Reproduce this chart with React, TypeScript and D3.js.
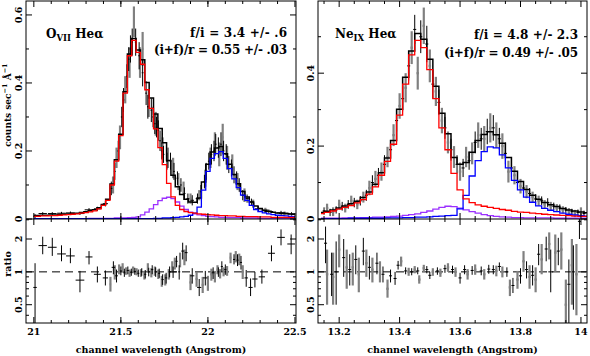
import * as d3 from "d3";

// ---------- O VII He-alpha (left) ----------
// model bin centres, 0.025 A apart
const oBins = d3.range(61).map((i) => 21 + i * 0.025);
const oTotal = [0.010,0.010,0.011,0.011,0.012,0.012,0.013,0.014,0.015,0.016,0.017,0.019,0.021,0.024,0.027,0.033,0.043,0.058,0.103,0.174,0.249,0.374,0.485,0.531,0.497,0.468,0.401,0.356,0.309,0.266,0.224,0.172,0.129,0.095,0.072,0.058,0.050,0.049,0.062,0.109,0.161,0.197,0.209,0.213,0.192,0.161,0.131,0.104,0.081,0.065,0.050,0.038,0.031,0.026,0.023,0.020,0.018,0.017,0.016,0.015,0.014];
const oRes = [0.008,0.008,0.009,0.009,0.010,0.010,0.011,0.012,0.013,0.014,0.015,0.017,0.019,0.021,0.024,0.030,0.040,0.055,0.100,0.170,0.245,0.370,0.480,0.525,0.490,0.455,0.380,0.325,0.265,0.210,0.160,0.105,0.065,0.040,0.028,0.022,0.019,0.017,0.015,0.014,0.013,0.012,0.011,0.010,0.010,0.009,0.009,0.008,0.008,0.007,0.007,0.007,0.006,0.006,0.006,0.005,0.005,0.005,0.005,0.005,0.005];
const oInter = [0.001,0.001,0.001,0.001,0.001,0.001,0.001,0.001,0.001,0.001,0.001,0.001,0.001,0.002,0.002,0.002,0.002,0.002,0.002,0.003,0.003,0.003,0.004,0.005,0.006,0.012,0.020,0.030,0.042,0.054,0.061,0.064,0.060,0.050,0.038,0.028,0.020,0.015,0.012,0.010,0.008,0.007,0.006,0.005,0.005,0.004,0.004,0.004,0.003,0.003,0.003,0.003,0.002,0.002,0.002,0.002,0.002,0.002,0.002,0.002,0.002];
const oForb = [0.001,0.001,0.001,0.001,0.001,0.001,0.001,0.001,0.001,0.001,0.001,0.001,0.001,0.001,0.001,0.001,0.001,0.001,0.001,0.001,0.001,0.001,0.001,0.001,0.001,0.001,0.001,0.001,0.002,0.002,0.003,0.003,0.004,0.005,0.006,0.008,0.011,0.017,0.035,0.085,0.140,0.178,0.192,0.198,0.178,0.148,0.118,0.092,0.070,0.055,0.040,0.028,0.022,0.018,0.015,0.013,0.011,0.010,0.009,0.008,0.007];
// data: [wavelength, counts, half bin, error]
const oBlack = [
  [21.007,0.008,0.01,0.006],[21.051,0.016,0.024,0.004],[21.106,0.016,0.025,0.004],[21.159,0.017,0.025,0.004],
  [21.21,0.018,0.025,0.004],[21.265,0.016,0.025,0.004],[21.317,0.027,0.025,0.005],[21.365,0.030,0.02,0.006],
  [21.411,0.045,0.015,0.008],[21.445,0.09,0.006,0.02],[21.465,0.14,0.005,0.025],[21.485,0.20,0.005,0.03],
  [21.505,0.30,0.005,0.03],[21.515,0.35,0.005,0.035],[21.535,0.42,0.005,0.035],[21.545,0.47,0.005,0.035],
  [21.555,0.50,0.005,0.04],[21.565,0.52,0.005,0.04],[21.585,0.52,0.005,0.04],[21.605,0.48,0.005,0.04],
  [21.625,0.43,0.005,0.04],[21.645,0.37,0.005,0.035],[21.655,0.33,0.005,0.035],[21.675,0.32,0.005,0.035],
  [21.685,0.30,0.005,0.03],[21.695,0.28,0.005,0.03],[21.705,0.27,0.005,0.03],[21.715,0.26,0.005,0.03],
  [21.725,0.23,0.005,0.03],[21.735,0.20,0.005,0.025],[21.745,0.19,0.005,0.025],[21.765,0.17,0.005,0.025],
  [21.785,0.17,0.005,0.025],[21.805,0.14,0.005,0.025],[21.825,0.12,0.005,0.02],[21.845,0.10,0.005,0.02],
  [21.865,0.075,0.006,0.018],[21.885,0.06,0.008,0.015],[21.91,0.055,0.01,0.015],[21.94,0.06,0.01,0.015],
  [21.96,0.08,0.006,0.02],[21.98,0.11,0.005,0.02],[21.99,0.14,0.005,0.025],[22.005,0.17,0.005,0.025],
  [22.02,0.19,0.005,0.03],[22.035,0.20,0.005,0.03],[22.045,0.22,0.005,0.03],[22.06,0.21,0.005,0.03],
  [22.075,0.22,0.005,0.035],[22.09,0.20,0.005,0.03],[22.105,0.19,0.005,0.03],[22.12,0.16,0.005,0.025],
  [22.135,0.15,0.005,0.025],[22.15,0.13,0.005,0.025],[22.165,0.12,0.005,0.02],[22.18,0.10,0.006,0.02],
  [22.2,0.07,0.008,0.015],[22.225,0.06,0.01,0.012],[22.25,0.05,0.012,0.01],[22.29,0.03,0.02,0.008],
  [22.35,0.022,0.025,0.006],[22.42,0.018,0.025,0.006],[22.48,0.015,0.022,0.005],
];
const oGray = [
  [21.455,0.10,0.004,0.025],[21.475,0.18,0.004,0.03],[21.495,0.24,0.004,0.035],[21.525,0.38,0.004,0.04],
  [21.55,0.46,0.004,0.045],[21.575,0.58,0.004,0.045],[21.61,0.46,0.004,0.045],[21.625,0.50,0.004,0.05],
  [21.66,0.34,0.004,0.04],[21.70,0.28,0.004,0.035],[21.74,0.21,0.004,0.03],[21.77,0.18,0.004,0.03],
  [21.80,0.15,0.004,0.03],[21.83,0.11,0.004,0.025],[21.86,0.09,0.004,0.02],[21.90,0.06,0.005,0.015],
  [21.95,0.07,0.005,0.015],[21.985,0.12,0.004,0.025],[22.015,0.18,0.004,0.03],[22.04,0.22,0.004,0.035],
  [22.065,0.19,0.004,0.035],[22.085,0.24,0.004,0.04],[22.11,0.18,0.004,0.035],[22.14,0.16,0.004,0.03],
  [22.17,0.11,0.004,0.025],[22.21,0.07,0.005,0.02],[22.26,0.045,0.008,0.012],[22.33,0.025,0.015,0.008],
  [22.44,0.016,0.02,0.006],
];
// ratio: [wavelength, ratio, half bin, low, high]
const oRatioBlack = [
  [21.007,0.72,0.01,0.34,1.2],[21.051,1.74,0.024,1.45,2.1],[21.106,1.68,0.025,1.4,2.05],[21.159,1.46,0.025,1.25,1.75],
  [21.21,1.40,0.025,1.2,1.65],[21.265,0.84,0.025,0.65,1.02],[21.317,1.37,0.02,1.17,1.55],[21.365,0.95,0.02,0.8,1.12],
  [21.411,0.88,0.015,0.75,1.03],[21.457,1.10,0.01,0.95,1.25],[21.475,0.92,0.008,0.8,1.05],[21.50,1.02,0.006,0.93,1.12],
  [21.52,0.98,0.006,0.9,1.07],[21.54,1.03,0.006,0.95,1.12],[21.56,0.99,0.006,0.92,1.07],[21.58,1.01,0.006,0.94,1.09],
  [21.60,0.97,0.006,0.9,1.05],[21.62,1.0,0.006,0.92,1.08],[21.64,0.95,0.006,0.87,1.04],[21.66,1.0,0.006,0.91,1.09],
  [21.68,1.05,0.006,0.95,1.15],[21.70,1.0,0.006,0.9,1.1],[21.72,0.97,0.006,0.88,1.07],[21.74,0.85,0.006,0.76,0.95],
  [21.76,0.88,0.006,0.78,0.98],[21.78,1.0,0.006,0.89,1.12],[21.80,1.0,0.02,0.88,1.12],[21.82,1.25,0.006,1.1,1.4],
  [21.835,1.0,0.006,0.85,1.15],[21.855,1.55,0.008,1.3,1.85],[21.875,1.5,0.008,1.25,1.75],[21.91,0.92,0.012,0.78,1.08],
  [21.95,0.72,0.012,0.6,0.86],[21.985,0.88,0.012,0.75,1.02],[22.03,0.98,0.008,0.86,1.1],[22.06,1.0,0.006,0.9,1.1],
  [22.08,1.12,0.006,1.0,1.25],[22.10,1.05,0.006,0.94,1.17],[22.15,1.3,0.006,1.17,1.45],[22.17,1.28,0.006,1.13,1.45],
  [22.19,1.22,0.006,1.05,1.4],[22.22,0.88,0.01,0.73,1.04],[22.245,0.72,0.012,0.6,0.87],[22.27,0.86,0.015,0.72,1.0],
  [22.31,0.9,0.018,0.78,1.05],[22.365,1.48,0.02,1.25,1.75],[22.42,2.07,0.022,1.75,2.45],[22.478,1.8,0.022,1.45,2.2],
];
const oRatioGray = [
  [21.44,0.77,0.004,0.66,0.9],[21.465,1.0,0.004,0.85,1.15],[21.49,1.05,0.004,0.95,1.17],[21.51,1.1,0.004,1.0,1.2],
  [21.53,1.02,0.004,0.94,1.1],[21.55,0.97,0.004,0.9,1.05],[21.57,1.04,0.004,0.97,1.12],[21.59,1.0,0.004,0.93,1.08],
  [21.615,0.98,0.004,0.9,1.06],[21.635,0.93,0.004,0.85,1.02],[21.655,1.1,0.004,1.0,1.2],[21.675,0.98,0.004,0.89,1.08],
  [21.695,1.02,0.004,0.92,1.12],[21.715,0.95,0.004,0.86,1.05],[21.735,0.82,0.004,0.73,0.92],[21.755,0.84,0.004,0.75,0.95],
  [21.775,0.95,0.004,0.85,1.06],[21.795,1.12,0.004,1.0,1.25],[21.81,1.2,0.004,1.05,1.35],[21.84,1.3,0.004,1.1,1.5],
  [21.865,1.35,0.004,1.15,1.6],[21.9,0.8,0.006,0.68,0.95],[21.935,0.86,0.006,0.73,1.0],[21.97,0.76,0.006,0.64,0.9],
  [22.0,0.78,0.006,0.67,0.92],[22.02,0.95,0.006,0.83,1.07],[22.04,0.9,0.006,0.8,1.02],[22.055,1.05,0.005,0.95,1.15],
  [22.07,0.96,0.005,0.87,1.06],[22.09,1.0,0.005,0.91,1.1],[22.11,1.02,0.005,0.92,1.13],[22.13,1.35,0.005,1.2,1.5],
  [22.16,1.38,0.005,1.22,1.55],[22.18,1.3,0.005,1.15,1.47],[22.2,1.0,0.005,0.86,1.15],
];

// ---------- Ne IX He-alpha (right) ----------
const neBins = d3.range(45).map((i) => 13.14 + i * 0.02);
const neTotal = [0.018,0.021,0.025,0.030,0.036,0.042,0.049,0.059,0.074,0.095,0.127,0.167,0.215,0.301,0.389,0.461,0.509,0.493,0.438,0.364,0.290,0.234,0.169,0.150,0.155,0.183,0.215,0.232,0.239,0.231,0.208,0.169,0.131,0.103,0.081,0.065,0.054,0.045,0.039,0.034,0.029,0.025,0.022,0.019,0.017];
const neRes = [0.015,0.018,0.022,0.027,0.032,0.037,0.044,0.053,0.068,0.088,0.120,0.158,0.205,0.285,0.370,0.450,0.490,0.470,0.410,0.330,0.250,0.190,0.125,0.080,0.055,0.045,0.039,0.035,0.032,0.029,0.026,0.024,0.021,0.019,0.018,0.016,0.015,0.013,0.012,0.011,0.010,0.009,0.008,0.007,0.007];
const neInter = [0.002,0.002,0.002,0.002,0.003,0.003,0.003,0.004,0.004,0.005,0.005,0.006,0.007,0.008,0.010,0.012,0.014,0.018,0.022,0.027,0.032,0.035,0.034,0.030,0.025,0.020,0.016,0.012,0.009,0.007,0.006,0.005,0.004,0.004,0.003,0.003,0.003,0.003,0.003,0.002,0.002,0.002,0.002,0.002,0.002];
const neForb = [0.001,0.001,0.001,0.001,0.001,0.002,0.002,0.002,0.002,0.002,0.002,0.003,0.003,0.003,0.004,0.004,0.005,0.005,0.006,0.007,0.008,0.009,0.010,0.028,0.065,0.118,0.160,0.185,0.198,0.195,0.176,0.140,0.106,0.080,0.060,0.046,0.036,0.029,0.024,0.020,0.016,0.013,0.011,0.009,0.008];
const neBlack = [
  [13.15,0.022,0.005,0.01],[13.17,0.018,0.005,0.01],[13.19,0.025,0.005,0.01],[13.21,0.035,0.005,0.012],
  [13.23,0.04,0.005,0.012],[13.25,0.045,0.005,0.013],[13.27,0.05,0.005,0.013],[13.29,0.065,0.005,0.015],
  [13.31,0.10,0.005,0.02],[13.33,0.12,0.005,0.02],[13.35,0.15,0.005,0.025],[13.37,0.19,0.005,0.025],
  [13.39,0.27,0.005,0.03],[13.41,0.33,0.005,0.035],[13.43,0.42,0.005,0.04],[13.45,0.52,0.005,0.04],
  [13.47,0.50,0.005,0.045],[13.49,0.48,0.005,0.05],[13.51,0.37,0.005,0.04],[13.53,0.32,0.005,0.035],
  [13.55,0.25,0.005,0.03],[13.57,0.19,0.005,0.03],[13.59,0.15,0.005,0.025],[13.61,0.14,0.005,0.025],
  [13.63,0.16,0.005,0.025],[13.65,0.21,0.005,0.03],[13.67,0.22,0.005,0.03],[13.69,0.24,0.005,0.035],
  [13.71,0.25,0.005,0.035],[13.73,0.22,0.005,0.03],[13.75,0.18,0.005,0.03],[13.77,0.14,0.005,0.025],
  [13.79,0.10,0.005,0.02],[13.81,0.085,0.005,0.018],[13.83,0.07,0.005,0.015],[13.85,0.055,0.005,0.013],
  [13.87,0.05,0.005,0.012],[13.89,0.045,0.005,0.012],[13.91,0.035,0.005,0.01],[13.93,0.03,0.005,0.01],
  [13.95,0.025,0.005,0.008],[13.97,0.02,0.005,0.008],[13.99,0.018,0.005,0.008],[14.01,0.015,0.005,0.008],
];
const neGray = [
  [13.16,0.03,0.004,0.012],[13.18,0.02,0.004,0.012],[13.20,0.04,0.004,0.013],[13.22,0.03,0.004,0.012],
  [13.24,0.05,0.004,0.014],[13.26,0.04,0.004,0.013],[13.28,0.06,0.004,0.015],[13.30,0.085,0.004,0.02],
  [13.32,0.11,0.004,0.022],[13.34,0.13,0.004,0.025],[13.36,0.17,0.004,0.028],[13.38,0.23,0.004,0.03],
  [13.40,0.31,0.004,0.035],[13.42,0.36,0.004,0.04],[13.44,0.47,0.004,0.045],[13.46,0.40,0.004,0.045],
  [13.48,0.53,0.004,0.05],[13.50,0.42,0.004,0.045],[13.52,0.35,0.004,0.04],[13.54,0.27,0.004,0.035],
  [13.56,0.21,0.004,0.03],[13.58,0.17,0.004,0.03],[13.60,0.13,0.004,0.025],[13.62,0.17,0.004,0.028],
  [13.64,0.18,0.004,0.03],[13.66,0.23,0.004,0.035],[13.68,0.22,0.004,0.035],[13.70,0.25,0.004,0.04],
  [13.72,0.23,0.004,0.035],[13.74,0.20,0.004,0.035],[13.76,0.13,0.004,0.03],[13.78,0.12,0.004,0.025],
  [13.80,0.09,0.004,0.02],[13.82,0.075,0.004,0.018],[13.84,0.06,0.004,0.015],[13.86,0.05,0.004,0.014],
  [13.88,0.04,0.004,0.012],[13.90,0.035,0.004,0.012],[13.92,0.03,0.004,0.011],[13.94,0.025,0.004,0.01],
  [13.96,0.02,0.004,0.01],[13.98,0.015,0.004,0.01],[14.00,0.02,0.004,0.012],
];
const neRatioBlack = [
  [13.155,1.83,0.005,1.2,2.6],[13.175,0.95,0.005,0.6,1.5],[13.19,1.0,0.005,0.5,1.9],[13.215,1.35,0.005,0.9,2.0],
  [13.235,1.05,0.005,0.75,1.45],[13.255,1.3,0.005,0.95,1.75],[13.28,1.55,0.005,1.15,2.05],[13.3,1.1,0.005,0.85,1.4],
  [13.325,1.2,0.005,0.95,1.5],[13.345,0.95,0.005,0.8,1.12],[13.37,0.92,0.005,0.8,1.05],[13.385,0.87,0.005,0.76,1.0],
  [13.395,1.15,0.005,1.05,1.26],[13.42,1.02,0.005,0.95,1.1],[13.44,1.0,0.005,0.93,1.08],[13.46,1.02,0.005,0.95,1.1],
  [13.49,1.05,0.005,0.97,1.13],[13.50,0.93,0.005,0.86,1.0],[13.525,1.02,0.005,0.94,1.1],[13.55,1.07,0.005,0.98,1.16],
  [13.575,1.05,0.005,0.96,1.14],[13.60,0.88,0.005,0.78,0.98],[13.615,1.05,0.005,0.95,1.15],[13.64,1.03,0.005,0.94,1.13],
  [13.67,1.02,0.005,0.93,1.12],[13.695,1.06,0.005,0.96,1.16],[13.71,1.05,0.005,0.95,1.15],[13.73,1.12,0.005,1.02,1.22],
  [13.755,1.0,0.005,0.9,1.1],[13.775,0.75,0.005,0.64,0.88],[13.8,0.92,0.005,0.78,1.08],[13.82,1.05,0.005,0.87,1.25],
  [13.84,0.93,0.005,0.75,1.15],[13.86,1.45,0.005,1.15,1.8],[13.885,1.62,0.005,1.25,2.1],[13.9,1.0,0.008,0.65,1.6],
  [13.925,1.55,0.005,1.15,2.05],[13.96,0.77,0.005,0.34,1.3],[13.975,1.0,0.005,0.45,1.75],[13.995,2.9,0.005,2.0,3.1],
];
const neRatioGray = [
  [13.16,0.95,0.004,0.5,1.6],[13.18,0.9,0.004,0.5,1.5],[13.2,1.6,0.004,1.1,2.2],[13.225,1.1,0.004,0.7,1.6],
  [13.245,1.1,0.004,0.75,1.5],[13.265,0.95,0.004,0.65,1.35],[13.29,1.2,0.004,0.9,1.6],[13.31,1.05,0.004,0.8,1.35],
  [13.335,1.0,0.004,0.8,1.25],[13.36,0.7,0.004,0.58,0.85],[13.405,1.25,0.004,1.12,1.38],[13.43,1.0,0.004,0.92,1.09],
  [13.45,1.05,0.004,0.97,1.13],[13.465,0.85,0.004,0.78,0.93],[13.48,1.08,0.004,1.0,1.16],[13.51,1.0,0.004,0.92,1.08],
  [13.535,0.98,0.004,0.9,1.07],[13.56,1.1,0.004,1.0,1.2],[13.585,1.0,0.004,0.9,1.1],[13.625,0.95,0.004,0.85,1.06],
  [13.65,1.05,0.004,0.94,1.17],[13.68,0.95,0.004,0.85,1.06],[13.72,1.02,0.004,0.91,1.14],[13.74,1.0,0.004,0.89,1.12],
  [13.765,0.72,0.004,0.6,0.85],[13.79,0.85,0.004,0.7,1.02],[13.81,1.25,0.004,1.0,1.55],[13.83,0.9,0.004,0.7,1.15],
  [13.85,0.85,0.004,0.65,1.1],[13.87,1.3,0.004,0.95,1.8],[13.895,1.8,0.004,1.3,2.3],[13.915,1.5,0.004,1.0,2.2],
  [13.935,1.6,0.004,1.05,2.3],[13.95,0.5,0.004,0.34,0.85],[13.97,1.15,0.004,0.5,2.0],[13.985,0.95,0.004,0.4,1.8],
];

// ticks
const oXMajor = [21, 21.5, 22, 22.5];
const oXLabels = ["21", "21.5", "22", "22.5"];
const neXMajor = [13.2, 13.4, 13.6, 13.8, 14];
const neXLabels = ["13.2", "13.4", "13.6", "13.8", "14"];
const oYMajor = [0, 0.2, 0.4, 0.6];
const oYLabels = ["0", "0.2", "0.4", "0.6"];
const neYMajor = [0, 0.2, 0.4];
const neYLabels = ["0", "0.2", "0.4"];
const ratioMajor = [0.5, 1, 2];
const ratioLabels = ["0.5", "1", "2"];
const ratioMinor = [0.4, 0.6, 0.7, 0.8, 0.9, 3];

const FONT = "'DejaVu Serif', 'Liberation Serif', serif";
const TOP = 1, MID = 219, BOT = 323;
const PURPLE = "#9b30ff";

type Seg = [number, number, number, number];

function Lines({ segs, color, width }: { segs: Seg[]; color: string; width: number }) {
  return (
    <g stroke={color} strokeWidth={width}>
      {segs.map((s, i) => <line key={i} x1={s[0]} y1={s[1]} x2={s[2]} y2={s[3]} />)}
    </g>
  );
}

function Panel(p: any) {
  const x = d3.scaleLinear().domain(p.xDom).range([p.left, p.right]);
  const y = d3.scaleLinear().domain([0, p.yMax]).range([MID, TOP]);
  const yr = d3.scaleLog().domain([0.34, 3.05]).range([BOT, MID]);
  const step = (vals: number[]) =>
    d3.line<number>().x((_, i) => x(p.bins[i])).y((v) => y(v)).curve(d3.curveStep)(vals) || "";

  const topErr = (pts: number[][]): Seg[] =>
    pts.flatMap(([cx, cy, xe, ye]) => [
      [x(cx), y(cy - ye), x(cx), y(cy + ye)] as Seg,
      [x(cx - xe), y(cy), x(cx + xe), y(cy)] as Seg,
    ]);
  const ratErr = (pts: number[][]): Seg[] =>
    pts.flatMap(([cx, r, xe, lo, hi]) => [
      [x(cx), yr(Math.max(lo, 0.3)), x(cx), yr(Math.min(hi, 3.2))] as Seg,
      [x(cx - xe), yr(r), x(cx + xe), yr(r)] as Seg,
    ]);

  // ticks pointing inwards on all sides
  const tk: Seg[] = [];
  const M = 6, m = 3;
  p.xMajor.forEach((v: number) => {
    const px = x(v);
    tk.push([px, TOP, px, TOP + M], [px, MID, px, MID - M], [px, MID, px, MID + M], [px, BOT, px, BOT - M]);
  });
  p.xMinor.forEach((v: number) => {
    const px = x(v);
    tk.push([px, TOP, px, TOP + m], [px, MID, px, MID - m], [px, MID, px, MID + m], [px, BOT, px, BOT - m]);
  });
  p.yMajor.forEach((v: number) => {
    tk.push([p.left, y(v), p.left + M, y(v)], [p.right, y(v), p.right - M, y(v)]);
  });
  p.yMinor.forEach((v: number) => {
    tk.push([p.left, y(v), p.left + m, y(v)], [p.right, y(v), p.right - m, y(v)]);
  });
  ratioMajor.forEach((v) => tk.push([p.left, yr(v), p.left + M, yr(v)], [p.right, yr(v), p.right - M, yr(v)]));
  ratioMinor.forEach((v) => tk.push([p.left, yr(v), p.left + m, yr(v)], [p.right, yr(v), p.right - m, yr(v)]));

  const cx = (p.left + p.right) / 2;
  return (
    <g>
      <defs>
        <clipPath id={`${p.id}-t`}><rect x={p.left} y={TOP} width={p.right - p.left} height={MID - TOP} /></clipPath>
        <clipPath id={`${p.id}-b`}><rect x={p.left} y={MID} width={p.right - p.left} height={BOT - MID} /></clipPath>
      </defs>
      <g clipPath={`url(#${p.id}-t)`} fill="none">
        <Lines segs={topErr(p.gray)} color="#808080" width={2.2} />
        <Lines segs={topErr(p.black)} color="#000" width={1} />
        <path d={step(p.total)} stroke="#000" strokeWidth={1.5} />
        <path d={step(p.inter)} stroke={PURPLE} strokeWidth={1.3} />
        <path d={step(p.forb)} stroke="#0000ff" strokeWidth={1.3} />
        <path d={step(p.res)} stroke="#ff0000" strokeWidth={1.3} />
      </g>
      <g clipPath={`url(#${p.id}-b)`}>
        <line x1={p.left} x2={p.right} y1={yr(1)} y2={yr(1)} stroke="#000" strokeWidth={1} strokeDasharray="8,5" />
        <Lines segs={ratErr(p.rGray)} color="#808080" width={2.2} />
        <Lines segs={ratErr(p.rBlack)} color="#000" width={1} />
      </g>
      <Lines segs={tk} color="#000" width={1} />
      <rect x={p.left} y={TOP} width={p.right - p.left} height={BOT - TOP} fill="none" stroke="#000" strokeWidth={1} />
      <line x1={p.left} x2={p.right} y1={MID} y2={MID} stroke="#000" strokeWidth={1} />
      <g fontSize={9.5} textAnchor="middle">
        {p.xMajor.map((v: number, i: number) => (
          <text key={i} x={x(v)} y={335}>{p.xLabels[i]}</text>
        ))}
        {p.yMajor.map((v: number, i: number) => (
          <text key={i} transform={`translate(${p.left - 4},${y(v)}) rotate(-90)`}>{p.yLabels[i]}</text>
        ))}
        {ratioMajor.map((v, i) => (
          <text key={i} transform={`translate(${p.left - 4},${yr(v)}) rotate(-90)`}>{ratioLabels[i]}</text>
        ))}
        <text x={cx} y={353} fontSize={9.5}>channel wavelength (Angstrom)</text>
      </g>
      <g fontSize={12}>
        <text x={p.left + p.ionX} y={38}>
          {p.ion}<tspan dy={3} fontSize={8.5}>{p.stage}</tspan><tspan dy={-3}> Heα</tspan>
        </text>
        <text x={p.right - 9 - p.fiW} y={p.fiY} textLength={p.fiW} lengthAdjust="spacing">{p.fi}</text>
        <text x={p.right - 9 - p.ifrW} y={p.ifrY} textLength={p.ifrW} lengthAdjust="spacing">{p.ifr}</text>
      </g>
    </g>
  );
}

export default function App() {
  return (
    <svg width={590} height={356} style={{ position: "fixed", left: 0, top: 0, background: "#fff" }}
      fontFamily={FONT} fontWeight="bold">
      <rect width={590} height={356} fill="#fff" />
      <Panel id="o" left={26} right={296} xDom={[20.955, 22.506]} yMax={0.641}
        bins={oBins} total={oTotal} res={oRes} inter={oInter} forb={oForb}
        black={oBlack} gray={oGray} rBlack={oRatioBlack} rGray={oRatioGray}
        xMajor={oXMajor} xLabels={oXLabels} xMinor={d3.range(21.1, 22.45, 0.1)}
        yMajor={oYMajor} yLabels={oYLabels} yMinor={[0.1, 0.3, 0.5]}
        ion="O" stage="VII" ionX={20} fi="f/i = 3.4 +/- .6" ifr="(i+f)/r = 0.55 +/- .03"
        fiY={37} ifrY={54} fiW={97} ifrW={133} />
      <Panel id="ne" left={318} right={587} xDom={[13.13, 14.02]} yMax={0.598}
        bins={neBins} total={neTotal} res={neRes} inter={neInter} forb={neForb}
        black={neBlack} gray={neGray} rBlack={neRatioBlack} rGray={neRatioGray}
        xMajor={neXMajor} xLabels={neXLabels} xMinor={d3.range(13.15, 14.0, 0.05).filter((v) => Math.abs(v * 5 - Math.round(v * 5)) > 0.01)}
        yMajor={neYMajor} yLabels={neYLabels} yMinor={[0.1, 0.3, 0.5]}
        ion="Ne" stage="IX" ionX={17} fi="f/i = 4.8 +/- 2.3" ifr="(i+f)/r = 0.49 +/- .05"
        fiY={39} ifrY={57} fiW={104} ifrW={134} />
      <text transform="translate(11,105) rotate(-90)" textAnchor="middle" fontSize={9}>
        counts sec<tspan dy={-4} fontSize={6.5}>−1</tspan><tspan dy={4}> Å</tspan><tspan dy={-4} fontSize={6.5}>−1</tspan>
      </text>
      <text transform="translate(11,264) rotate(-90)" textAnchor="middle" fontSize={9.5}>ratio</text>
    </svg>
  );
}
